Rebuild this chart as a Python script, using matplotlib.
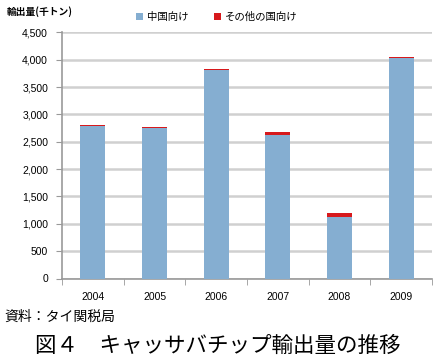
import matplotlib
matplotlib.use("Agg")
import matplotlib.pyplot as plt
import numpy as np

plt.rcParams['font.family'] = ['Noto Sans CJK JP', 'DejaVu Sans']

years = ["2004", "2005", "2006", "2007", "2008", "2009"]
china = [2790, 2755, 3810, 2625, 1120, 4040]
others = [25, 20, 15, 50, 80, 8]
yticks = [0, 500, 1000, 1500, 2000, 2500, 3000, 3500, 4000, 4500]

fig = plt.figure(figsize=(4.38, 3.61), dpi=100)
ax = fig.add_axes([62/438, 1 - 278.5/361, 370/438, 246/361])

x = np.arange(len(years))
blue = "#85AED1"
red = "#D7191C"
ax.bar(x, china, width=0.41, color=blue, label="中国向け", zorder=3)
ax.bar(x, others, width=0.41, bottom=china, color=red, label="その他の国向け", zorder=3)

ax.set_xlim(-0.5, len(years) - 0.5)
ax.set_ylim(0, 4500)
ax.set_yticks(yticks)
ax.set_yticklabels([f"{v:,}" for v in yticks], fontsize=7.5, family=['Liberation Sans', 'DejaVu Sans'])
ax.set_xticks(x)
ax.set_xticklabels(years, fontsize=7.5, family=['Liberation Sans', 'DejaVu Sans'])
ax.set_xticks(np.arange(-0.5, len(years)), minor=True)
ax.tick_params(axis='x', which='major', length=0, pad=10)
ax.tick_params(axis='x', which='minor', length=4, color="#999999", direction='out')
ax.tick_params(axis='y', length=4, color="#999999", direction='out', pad=6)

ax.grid(axis='y', color="#D0D0D0", linewidth=1.8, zorder=0)
for s in ["top", "right"]:
    ax.spines[s].set_visible(False)
ax.spines["left"].set_color("#999999")
ax.spines["bottom"].set_color("#999999")
ax.spines["left"].set_linewidth(1.2)
ax.spines["bottom"].set_linewidth(1.2)

fig.text(7/438, 1 - 12/361, "輸出量(千トン)", fontsize=7, fontweight='bold', va='center', ha='left')
leg = fig.legend(loc='center left', bbox_to_anchor=(132/438, 1 - 17/361), ncol=2, frameon=False,
                 fontsize=7.5, handlelength=0.7, handleheight=0.7, handletextpad=0.3, columnspacing=2.5,
                 borderaxespad=0)

fig.text(4/438, 1 - 317/361, "資料：タイ関税局", fontsize=10, va='center', ha='left')
fig.text(218/438, 1 - 346/361, "図４　キャッサバチップ輸出量の推移", fontsize=15.5, va='center', ha='center')

fig.savefig("out.png", dpi=100)
